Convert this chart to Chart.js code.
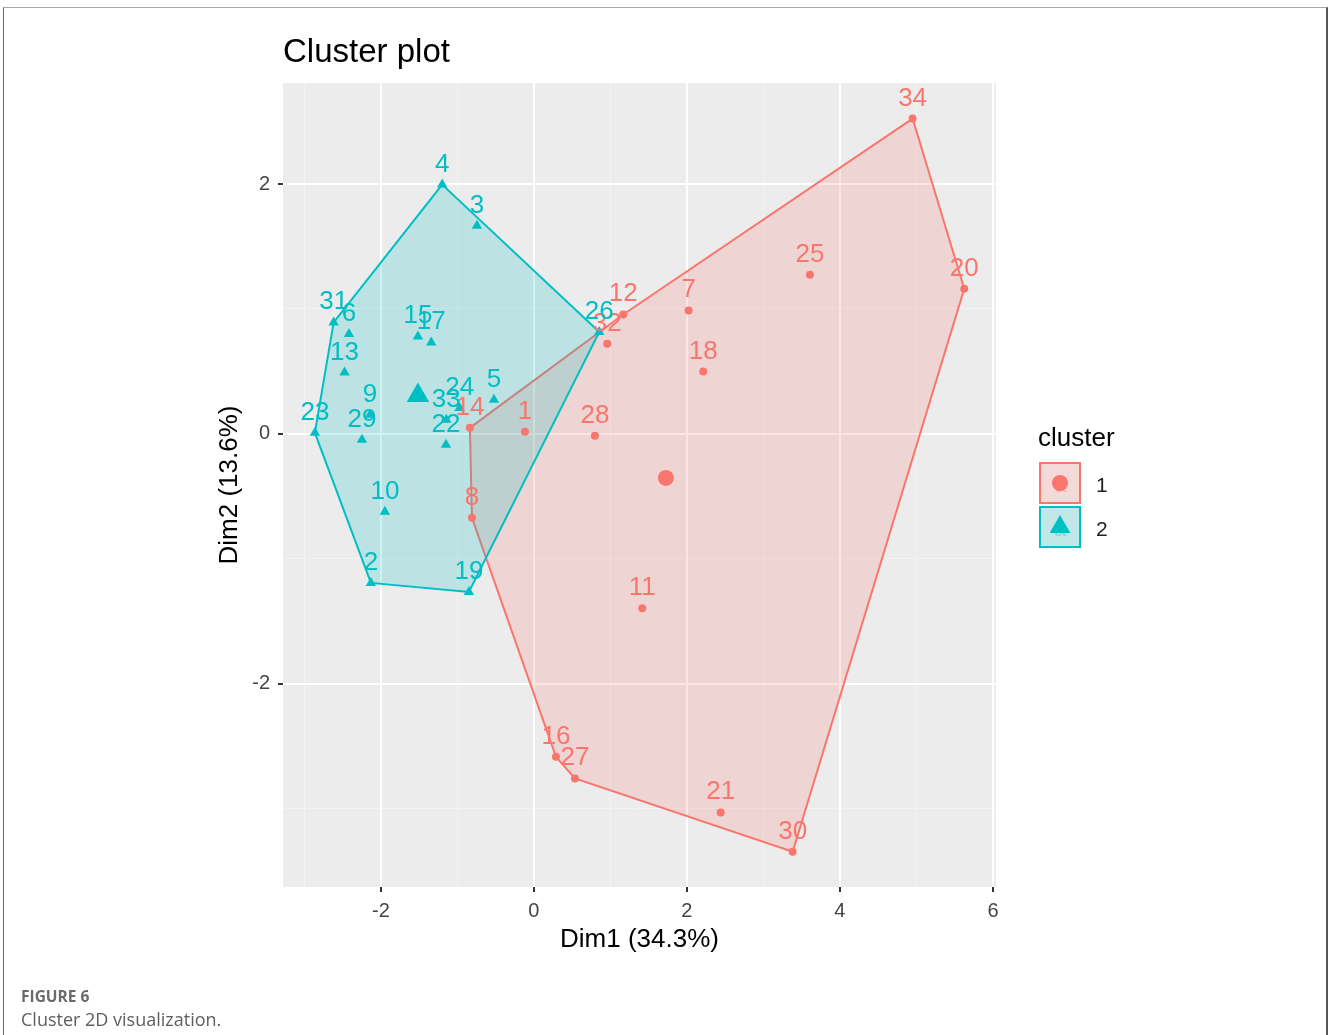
<!DOCTYPE html>
<html>
<head>
<meta charset="utf-8">
<script src="https://cdn.jsdelivr.net/npm/chart.js@4.4.0/dist/chart.umd.min.js"></script>
<style>
  html, body { margin: 0; padding: 0; background: #fff; overflow: hidden; }
  #frame { position: absolute; left: 3px; top: 7px; width: 1325px; height: 1100px;
           border-top: 1.5px solid #a8a8a8; border-left: 1px solid #666; border-right: 2px solid #555;
           box-sizing: border-box; }
  #chart { position: absolute; left: 0; top: 0; }
  .fig { position: absolute; left: 21px; font-family: 'Open Sans', sans-serif; color: #666; white-space: nowrap; }
  #figno { top: 986px; font-size: 15.5px; line-height: 20px; font-weight: 700; color: #6a6a6a; }
  #figcap { top: 1007px; font-size: 18px; line-height: 24px; font-weight: 400; color: #5e5e5e; }
</style>
</head>
<body>
<div id="frame"></div>
<canvas id="chart" width="1328" height="1035"></canvas>
<div class="fig" id="figno">FIGURE 6</div>
<div class="fig" id="figcap">Cluster 2D visualization.</div>
<script>
// cluster 1 (circles)
var ids1 = ['1', '7', '8', '11', '12', '14', '16', '18', '20', '21', '25', '27', '28', '30', '32', '34'];
var dim1A = [-0.118, 2.022, -0.810, 1.416, 1.167, -0.837, 0.288, 2.213, 5.625, 2.441, 3.608, 0.536, 0.797, 3.382, 0.958, 4.950];
var dim2A = [0.016, 0.988, -0.673, -1.397, 0.956, 0.048, -2.587, 0.499, 1.162, -3.033, 1.275, -2.760, -0.016, -3.348, 0.721, 2.525];

// cluster 2 (triangles)
var ids2 = ['2', '3', '4', '5', '6', '9', '10', '13', '15', '17', '19', '22', '23', '24', '26', '29', '31', '33'];
var dim1B = [-2.131, -0.745, -1.199, -0.523, -2.418, -2.144, -1.948, -2.475, -1.516, -1.342, -0.850, -1.150, -2.863, -0.971, 0.854, -2.248, -2.618, -1.146];
var dim2B = [-1.194, 1.667, 1.996, 0.273, 0.799, 0.152, -0.625, 0.491, 0.780, 0.732, -1.267, -0.088, 0.008, 0.206, 0.815, -0.048, 0.892, 0.112];

// convex hull vertices, in drawing order
var hullA = ['34', '20', '30', '27', '16', '8', '14', '12', '34'];
var hullB = ['4', '26', '19', '2', '23', '31', '4'];

// cluster centres
var centreA = [1.725, -0.353];
var centreB = [-1.516, 0.306];

// axes
var xLimits = [-3.28, 6.04];
var yLimits = [-3.63, 2.81];
var xGrid = [-3, -2, -1, 0, 1, 2, 3, 4, 5, 6];
var yGrid = [-3, -2, -1, 0, 1, 2];
var xTickLabels = ['-2', '0', '2', '4', '6'];
var yTickLabels = ['-2', '0', '2'];
var clusterNames = ['1', '2'];

var RED = '#F8766D';
var CYAN = '#00BFC4';
var FONT = '"Liberation Sans", Arial, Helvetica, sans-serif';

function toPoints(xs, ys) {
  return xs.map(function (v, i) { return { x: v, y: ys[i] }; });
}
function hullPoints(order, ids, xs, ys) {
  return order.map(function (id) {
    var k = ids.indexOf(id);
    return { x: xs[k], y: ys[k] };
  });
}
function isMajor(list, v) {
  return list.indexOf(String(v)) !== -1;
}

// grey panel behind the grid
var panel = {
  id: 'panel',
  beforeDraw: function (chart) {
    var a = chart.chartArea, ctx = chart.ctx;
    ctx.save();
    ctx.fillStyle = '#ECECEC';
    ctx.fillRect(a.left, a.top, a.right - a.left, a.bottom - a.top);
    ctx.restore();
  }
};

// text labels above every observation
var pointLabels = {
  id: 'pointLabels',
  afterDatasetsDraw: function (chart) {
    var ctx = chart.ctx;
    ctx.save();
    ctx.font = '26px ' + FONT;
    ctx.textAlign = 'center';
    ctx.textBaseline = 'alphabetic';
    chart.data.datasets.forEach(function (ds, i) {
      if (!ds.labels) return;
      ctx.fillStyle = ds.labelColor;
      chart.getDatasetMeta(i).data.forEach(function (el, j) {
        ctx.fillText(ds.labels[j], el.x, el.y - 13);
      });
    });
    ctx.restore();
  }
};

// plot title and the cluster legend
var decor = {
  id: 'decor',
  afterDraw: function (chart) {
    var ctx = chart.ctx;
    ctx.save();
    ctx.fillStyle = '#000';
    ctx.textAlign = 'left';
    ctx.textBaseline = 'alphabetic';
    ctx.font = '33px ' + FONT;
    ctx.fillText('Cluster plot', chart.chartArea.left, 62);

    ctx.font = '26px ' + FONT;
    ctx.fillText('cluster', 1038, 446);

    var keys = [
      { color: RED, fill: 'rgba(248,118,109,0.2)', shape: 'circle' },
      { color: CYAN, fill: 'rgba(0,191,196,0.2)', shape: 'triangle' }
    ];
    keys.forEach(function (k, i) {
      var top = 463 + i * 44, cx = 1060, cy = top + 20;
      ctx.fillStyle = '#F2F2F2';
      ctx.fillRect(1040, top, 40, 40);
      ctx.fillStyle = k.fill;
      ctx.fillRect(1040, top, 40, 40);
      ctx.strokeStyle = k.color;
      ctx.lineWidth = 2;
      ctx.strokeRect(1040, top, 40, 40);

      ctx.globalAlpha = 0.35;
      ctx.fillStyle = k.color;
      ctx.font = '22px ' + FONT;
      ctx.textAlign = 'center';
      ctx.textBaseline = 'middle';
      ctx.fillText('a', cx, cy + 3);
      ctx.globalAlpha = 1;

      ctx.fillStyle = k.color;
      ctx.beginPath();
      if (k.shape === 'circle') {
        ctx.arc(cx, cy, 8, 0, Math.PI * 2);
      } else {
        var r = 12;
        ctx.moveTo(cx, cy - r);
        ctx.lineTo(cx + r * 0.866, cy + r * 0.5);
        ctx.lineTo(cx - r * 0.866, cy + r * 0.5);
        ctx.closePath();
      }
      ctx.fill();

      ctx.fillStyle = '#222';
      ctx.font = '21px ' + FONT;
      ctx.textAlign = 'left';
      ctx.textBaseline = 'alphabetic';
      ctx.fillText(clusterNames[i], 1096, cy + 9);
    });
    ctx.restore();
  }
};

function gridColor(labels) {
  return function (c) {
    if (!c.tick) return '#FFFFFF';
    return isMajor(labels, c.tick.value) ? '#FFFFFF' : 'rgba(255,255,255,0.4)';
  };
}
function gridWidth(labels) {
  return function (c) {
    if (!c.tick) return 1;
    return isMajor(labels, c.tick.value) ? 2 : 1;
  };
}
function tickColor(labels) {
  return function (c) {
    if (!c.tick) return 'rgba(0,0,0,0)';
    return isMajor(labels, c.tick.value) ? '#333333' : 'rgba(0,0,0,0)';
  };
}

var ctx = document.getElementById('chart').getContext('2d');
var chart = new Chart(ctx, {
  type: 'scatter',
  data: {
    datasets: [
      {
        data: hullPoints(hullA, ids1, dim1A, dim2A),
        showLine: true, fill: 'shape', tension: 0,
        borderColor: RED, borderWidth: 2,
        backgroundColor: 'rgba(248,118,109,0.2)',
        pointRadius: 0, order: 10
      },
      {
        data: hullPoints(hullB, ids2, dim1B, dim2B),
        showLine: true, fill: 'shape', tension: 0,
        borderColor: CYAN, borderWidth: 2,
        backgroundColor: 'rgba(0,191,196,0.2)',
        pointRadius: 0, order: 9
      },
      {
        data: toPoints(dim1A, dim2A), labels: ids1, labelColor: RED,
        pointStyle: 'circle', pointRadius: 4, pointBorderWidth: 0,
        backgroundColor: RED, borderColor: RED, order: 4
      },
      {
        data: toPoints(dim1B, dim2B), labels: ids2, labelColor: CYAN,
        pointStyle: 'triangle', pointRadius: 6, pointBorderWidth: 0,
        backgroundColor: CYAN, borderColor: CYAN, order: 3
      },
      {
        data: [{ x: centreA[0], y: centreA[1] }],
        pointStyle: 'circle', pointRadius: 8, pointBorderWidth: 0,
        backgroundColor: RED, borderColor: RED, order: 2
      },
      {
        data: [{ x: centreB[0], y: centreB[1] }],
        pointStyle: 'triangle', pointRadius: 13, pointBorderWidth: 0,
        backgroundColor: CYAN, borderColor: CYAN, order: 1
      }
    ]
  },
  options: {
    responsive: false,
    animation: false,
    devicePixelRatio: 1,
    layout: { padding: { left: 214, top: 83, right: 332, bottom: 80 } },
    plugins: {
      legend: { display: false },
      tooltip: { enabled: false },
      title: { display: false }
    },
    scales: {
      x: {
        type: 'linear', min: xLimits[0], max: xLimits[1],
        afterBuildTicks: function (s) { s.ticks = xGrid.map(function (v) { return { value: v }; }); },
        afterFit: function (s) { s.height = 68; },
        border: { display: false },
        grid: { color: gridColor(xTickLabels), lineWidth: gridWidth(xTickLabels),
                tickColor: tickColor(xTickLabels), tickWidth: 2, tickLength: 5 },
        ticks: {
          autoSkip: false, maxRotation: 0, padding: 7, color: '#444444',
          font: { size: 20, family: FONT },
          callback: function (v) { return isMajor(xTickLabels, v) ? String(v) : ''; }
        },
        title: { display: true, text: 'Dim1 (34.3%)', color: '#000',
                 font: { size: 26, family: FONT }, padding: { top: 0, bottom: 0 } }
      },
      y: {
        type: 'linear', min: yLimits[0], max: yLimits[1],
        afterBuildTicks: function (s) { s.ticks = yGrid.map(function (v) { return { value: v }; }); },
        afterFit: function (s) { s.width = 69; },
        border: { display: false },
        grid: { color: gridColor(yTickLabels), lineWidth: gridWidth(yTickLabels),
                tickColor: tickColor(yTickLabels), tickWidth: 2, tickLength: 5 },
        ticks: {
          autoSkip: false, padding: 8, color: '#444444',
          font: { size: 20, family: FONT },
          callback: function (v) { return isMajor(yTickLabels, v) ? String(v) : ''; }
        },
        title: { display: true, text: 'Dim2 (13.6%)', color: '#000',
                 font: { size: 26, family: FONT }, padding: { top: 0, bottom: 0 } }
      }
    }
  },
  plugins: [panel, pointLabels, decor]
});
</script>
</body>
</html>
